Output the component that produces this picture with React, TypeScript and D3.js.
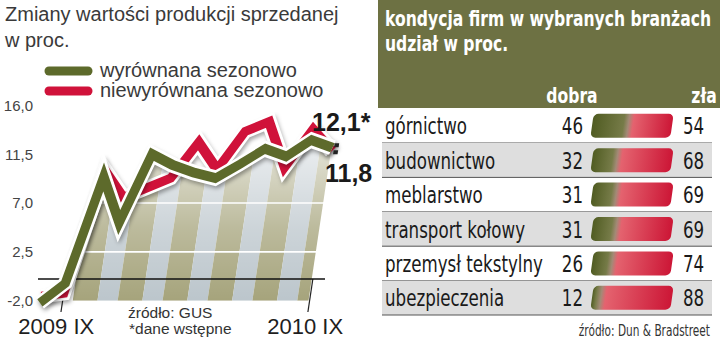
import React from "react";
import * as d3 from "d3";

// ---------- data (left chart) ----------
const months = [
  "2009-09", "2009-10", "2009-11", "2009-12", "2010-01", "2010-02", "2010-03",
  "2010-04", "2010-05", "2010-06", "2010-07", "2010-08", "2010-09",
];
const adjusted = [-2.2, -0.4, 9.4, 5.2, 11.5, 10.5, 9.8, 9.3, 10.6, 12.0, 11.3, 12.8, 12.1];
const unadjusted = [-1.6, -1.3, 10.0, 7.5, 8.4, 9.3, 12.6, 10.1, 13.6, 14.5, 10.3, 13.8, 11.8];
const yTickValues = [16, 11.5, 7, 2.5, -2];
const yTickLabels = ["16,0", "11,5", "7,0", "2,5", "-2,0"];
const gridValues = [2.5, 7];
const xLabels = ["2009 IX", "2010 IX"];
const endLabels = ["12,1*", "11,8"];
const legendLabels = ["wyrównana sezonowo", "niewyrównana sezonowo"];

// ---------- data (right table) ----------
const branches = [
  "górnictwo",
  "budownictwo",
  "meblarstwo",
  "transport kołowy",
  "przemysł tekstylny",
  "ubezpieczenia",
];
const good = [46, 32, 31, 31, 26, 12];
const bad = [54, 68, 69, 69, 74, 88];

const GREEN = "#5d6a2b";
const RED = "#d0123a";
const OLIVE = "#6d7143";
const K = 0.15;
const SANS = "'Liberation Sans', Arial, sans-serif";
const COND = "'DejaVu Sans', sans-serif";
const S_BOLD = 0.71; // horizontal condensation for bold condensed text
const S_REG = 0.71; // horizontal condensation for regular condensed text

function CText(props: {
  x: number;
  y: number;
  s: number;
  anchor?: "start" | "end" | "middle";
  size: number;
  bold?: boolean;
  fill: string;
  children: React.ReactNode;
}) {
  return (
    <g transform={`translate(${props.x},${props.y}) scale(${props.s},1)`}>
      <text
        x={0}
        y={0}
        textAnchor={props.anchor || "start"}
        fontFamily={COND}
        fontWeight={props.bold ? "bold" : "normal"}
        fontSize={props.size}
        fill={props.fill}
      >
        {props.children}
      </text>
    </g>
  );
}

export default function App() {
  const y = d3.scaleLinear().domain([-2, 16]).range([300.7, 105.4]);
  const x = d3.scalePoint<string>().domain(months).range([40.2, 309.6]);
  const yBase = y(-2);
  const skewDeg = (-Math.atan(K) * 180) / Math.PI;
  const skew = `translate(${K * yBase},0) skewX(${skewDeg})`;
  const step = x.step();
  const x0 = x(months[0])!;
  const xi = (i: number) => x0 + i * step;
  const screenX = (i: number, yy: number) => xi(i) + K * (yBase - yy);

  const line = d3
    .line<number>()
    .x((_, i) => x(months[i])!)
    .y((v) => y(v));
  const area = d3
    .area<number>()
    .x((_, i) => x(months[i])!)
    .y0(yBase)
    .y1((v) => Math.min(y(v), yBase));

  const lastIdx = months.length - 1;
  const stripeEnd = lastIdx - 0.05;
  const stripes: { a: number; b: number; beige: boolean }[] = [];
  for (let s = 1.45; s < stripeEnd; s += 2) {
    stripes.push({ a: s, b: Math.min(s + 1.1, stripeEnd), beige: true });
    if (s + 1.1 < stripeEnd) stripes.push({ a: s + 1.1, b: Math.min(s + 2, stripeEnd), beige: false });
  }

  // right table
  const rowTop = 108.6;
  const rowH = 34.4;
  const bx = d3.scaleLinear().domain([0, 100]).range([592, 672]);
  const barH = 24;

  const series = [
    { vals: unadjusted, color: RED, id: "r" },
    { vals: adjusted, color: GREEN, id: "g" },
  ];

  const endY = (y(adjusted[lastIdx]) + y(unadjusted[lastIdx])) / 2;

  return (
    <svg
      width={720}
      height={346}
      style={{ position: "absolute", left: 0, top: 0, background: "#fff" }}
    >
      <defs>
        <filter id="blur" x="-20%" y="-20%" width="140%" height="150%">
          <feGaussianBlur stdDeviation="2.2" />
        </filter>
        <linearGradient id="fade" gradientUnits="userSpaceOnUse" x1="0" y1="140" x2="0" y2="300">
          <stop offset="0" stopColor="#fff" stopOpacity="0.72" />
          <stop offset="0.55" stopColor="#fff" stopOpacity="0.25" />
          <stop offset="1" stopColor="#fff" stopOpacity="0" />
        </linearGradient>
        <clipPath id="areaClip">
          <path d={area(adjusted) || ""} />
        </clipPath>
        {good.map((g, i) => {
          const s = g / 100;
          return (
            <linearGradient key={i} id={`bar${i}`} x1="0" y1="0" x2="1" y2="0">
              <stop offset="0" stopColor="#505c22" />
              <stop offset={Math.max(s - 0.07, 0.01)} stopColor="#767b48" />
              <stop offset={Math.max(s - 0.01, 0.02)} stopColor="#a38a76" />
              <stop offset={Math.min(s + 0.05, 0.99)} stopColor="#e4636f" />
              <stop offset="1" stopColor="#cc1636" />
            </linearGradient>
          );
        })}
      </defs>

      {/* ---------------- left chart ---------------- */}
      <text x={5} y={21} fontFamily={SANS} fontSize={20} fill="#3a3a3a">
        Zmiany wartości produkcji sprzedanej
      </text>
      <text x={5} y={47} fontFamily={SANS} fontSize={20} fill="#3a3a3a">
        w proc.
      </text>

      {/* legend */}
      {[GREEN, RED].map((c, i) => (
        <g key={i}>
          <line
            x1={49}
            x2={88}
            y1={71 + i * 20}
            y2={71 + i * 20}
            stroke={c}
            strokeWidth={9}
            strokeLinecap="round"
          />
          <text x={100} y={77 + i * 20} fontFamily={SANS} fontSize={20} fill="#3a3a3a">
            {legendLabels[i]}
          </text>
        </g>
      ))}

      {/* y tick labels */}
      {yTickValues.map((v, i) => (
        <text
          key={i}
          x={33}
          y={y(v)}
          dy="0.36em"
          textAnchor="end"
          fontFamily={SANS}
          fontSize={15}
          fill="#444"
        >
          {yTickLabels[i]}
        </text>
      ))}

      <g transform={skew}>
        {/* striped area */}
        <g clipPath="url(#areaClip)">
          {stripes.map((s, i) => (
            <rect
              key={i}
              x={xi(s.a)}
              y={80}
              width={xi(s.b) - xi(s.a)}
              height={yBase - 80}
              fill={s.beige ? "#a6a47c" : "#bcc6cc"}
            />
          ))}
          <rect x={0} y={80} width={400} height={yBase - 80} fill="url(#fade)" />
          {gridValues.map((g, i) => (
            <line
              key={i}
              x1={0}
              x2={400}
              y1={y(g)}
              y2={y(g)}
              stroke="#fff"
              strokeWidth={1.6}
            />
          ))}
        </g>

        {/* ticks */}
        <line x1={xi(1)} x2={xi(1)} y1={296} y2={312} stroke="#222" strokeWidth={1.2} />
        <line x1={xi(lastIdx)} x2={xi(lastIdx)} y1={y(0)} y2={312} stroke="#222" strokeWidth={1.2} />
      </g>

      {/* zero line */}
      <line x1={38} x2={325} y1={y(0)} y2={y(0)} stroke="#111" strokeWidth={1.6} />

      <g transform={skew}>
        {series.map((s) => (
          <g key={s.id}>
            <path
              d={line(s.vals) || ""}
              fill="none"
              stroke="#000"
              strokeOpacity={0.35}
              strokeWidth={14}
              strokeLinejoin="miter"
              transform="translate(2,3)"
              filter="url(#blur)"
            />
            <path
              d={line(s.vals) || ""}
              fill="none"
              stroke="#fff"
              strokeWidth={15}
              strokeLinejoin="miter"
              strokeMiterlimit={6}
            />
            <path
              d={line(s.vals) || ""}
              fill="none"
              stroke={s.color}
              strokeWidth={9.5}
              strokeLinejoin="miter"
              strokeMiterlimit={6}
            />
          </g>
        ))}
        {/* end markers */}
        <rect x={xi(lastIdx) + 1.5} y={endY - 6} width={4.5} height={4} fill="#222" />
        <rect x={xi(lastIdx) + 1.5} y={endY + 1} width={4.5} height={4} fill="#222" />
      </g>

      {/* end labels */}
      <text x={312} y={131} fontFamily={SANS} fontWeight="bold" fontSize={25} fill="#1a1a1a">
        {endLabels[0]}
      </text>
      <text x={325} y={182} fontFamily={SANS} fontWeight="bold" fontSize={25} fill="#1a1a1a">
        {endLabels[1]}
      </text>

      {/* x labels */}
      <text
        x={screenX(1, 330) - 2}
        y={334}
        textAnchor="middle"
        fontFamily={SANS}
        fontSize={22}
        fill="#1e1e1e"
      >
        {xLabels[0]}
      </text>
      <text
        x={screenX(lastIdx, 330)}
        y={334}
        textAnchor="middle"
        fontFamily={SANS}
        fontSize={22}
        fill="#1e1e1e"
      >
        {xLabels[1]}
      </text>

      <text x={128} y={318} fontFamily={SANS} fontSize={15.5} fill="#333">
        źródło: GUS
      </text>
      <text x={129} y={334} fontFamily={SANS} fontSize={15.5} fill="#333">
        *dane wstępne
      </text>

      {/* ---------------- right table ---------------- */}
      <rect x={378} y={0} width={342} height={108} fill={OLIVE} />
      <CText x={385} y={26} s={S_BOLD} size={22} bold fill="#fff">
        kondycja firm w wybranych branżach
      </CText>
      <CText x={385} y={51} s={S_BOLD} size={22} bold fill="#fff">
        udział w proc.
      </CText>
      <CText x={572} y={103} s={S_BOLD} size={22} bold anchor="middle" fill="#fff">
        dobra
      </CText>
      <CText x={704} y={103} s={S_BOLD} size={22} bold anchor="middle" fill="#fff">
        zła
      </CText>

      {branches.map((b, i) => {
        const top = rowTop + i * rowH;
        const cy = top + rowH / 2;
        const w = bx(100) - bx(0);
        return (
          <g key={b}>
            {i % 2 === 1 && <rect x={382} y={top} width={330} height={rowH} fill="#dedede" />}
            <line x1={382} x2={712} y1={top + rowH} y2={top + rowH} stroke="#555" strokeWidth={1} />
            <CText x={385} y={cy + 8.5} s={S_REG} size={23.5} fill="#1a1a1a">
              {b}
            </CText>
            <CText x={583} y={cy + 8.5} s={S_REG} size={23.5} anchor="end" fill="#1a1a1a">
              {good[i]}
            </CText>
            <g transform={`translate(${bx(0) + w / 2},${cy}) skewX(-8)`}>
              <rect x={-w / 2} y={-barH / 2} width={w} height={barH} rx={5} fill={`url(#bar${i})`} />
            </g>
            <CText x={683} y={cy + 8.5} s={S_REG} size={23.5} fill="#1a1a1a">
              {bad[i]}
            </CText>
          </g>
        );
      })}

      <CText x={710} y={336} s={0.66} size={16} anchor="end" fill="#333">
        źródło: Dun &amp; Bradstreet
      </CText>
    </svg>
  );
}
